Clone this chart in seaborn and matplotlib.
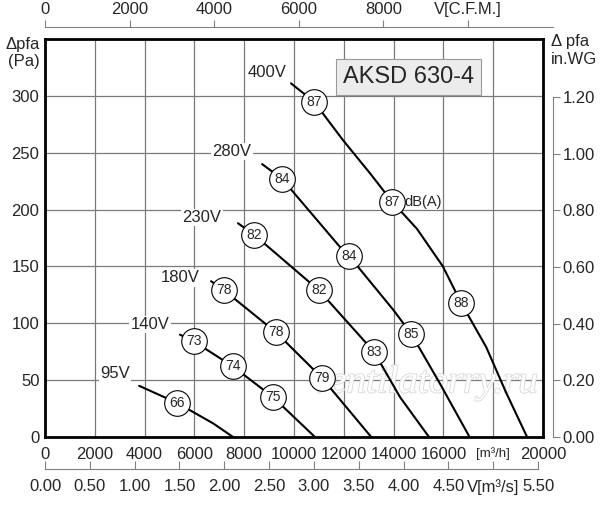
import matplotlib
matplotlib.use('Agg')
import matplotlib.pyplot as plt
import matplotlib.patheffects as pe
import seaborn as sns
import pandas as pd

# fan curves, flow in m3/h, static pressure in Pa
v400_q = [9880, 10800, 11970, 13050, 13940, 14940, 15980, 16710, 17720, 18520, 19360]
v400_p = [311, 295, 261, 232, 207, 183, 150, 118, 79, 39, 0]
v280_q = [8720, 9520, 11850, 12220, 13980, 14700, 15860, 17050]
v280_p = [240, 227, 167, 159, 112, 91, 47, 0]
v230_q = [7750, 8390, 11000, 13210, 14260, 15420]
v230_p = [188, 178, 129, 75, 35, 0]
v180_q = [6670, 7190, 9280, 11120, 13100]
v180_p = [137, 129, 92, 52, 0]
v140_q = [5420, 5980, 7550, 9160, 10840]
v140_p = [90, 84, 62, 35, 0]
v95_q = [3780, 5300, 6750, 7550]
v95_p = [45, 30, 12, 0]

# noise markers dB(A)
noise_q = [10800, 13940, 16710, 9520, 12220, 14700, 8390, 11000, 13210,
           7190, 9280, 11120, 5980, 7550, 9160, 5300]
noise_p = [295, 207, 118, 227, 159, 91, 178, 129, 75,
           129, 92, 52, 84, 62, 35, 30]
noise_db = [87, 87, 88, 84, 84, 85, 82, 82, 83, 78, 78, 79, 73, 74, 75, 66]

voltages = ['400V', '280V', '230V', '180V', '140V', '95V']
x_ticks = list(range(0, 20001, 2000))
y_ticks = list(range(0, 301, 50))
cfm_ticks = list(range(0, 12001, 2000))
wg_ticks = [0.0, 0.2, 0.4, 0.6, 0.8, 1.0, 1.2]
ms_ticks = [0, 0.5, 1.0, 1.5, 2.0, 2.5, 3.0, 3.5, 4.0, 4.5, 5.0, 5.5]

curves = [(v400_q, v400_p), (v280_q, v280_p), (v230_q, v230_p),
          (v180_q, v180_p), (v140_q, v140_p), (v95_q, v95_p)]
rows = []
for name, (q, p) in zip(voltages, curves):
    for a, b in zip(q, p):
        rows.append({'flow': a, 'pressure': b, 'voltage': name})
df = pd.DataFrame(rows)
marks = pd.DataFrame({'flow': noise_q, 'pressure': noise_p, 'db': noise_db})

sns.set_style('white')
plt.rcParams['font.family'] = ['Liberation Sans', 'DejaVu Sans']

fig = plt.figure(figsize=(6.0, 5.05), dpi=100)
ax = fig.add_axes([0.075, 0.1347, 0.83, 0.788])

ax.text(0.763, 0.136, 'ventilatorry.ru', transform=ax.transAxes, ha='center',
        va='center', fontsize=28, style='italic', family='Liberation Serif',
        color='white', zorder=2,
        path_effects=[pe.withStroke(linewidth=1.2, foreground='#d8d8d8')])

sns.lineplot(data=df, x='flow', y='pressure', units='voltage', estimator=None,
             sort=False, color='black', linewidth=1.5, ax=ax, zorder=3)
sns.scatterplot(data=marks, x='flow', y='pressure', s=340, color='white',
                edgecolor='black', linewidth=0.8, ax=ax, zorder=4)
for q, p, d in zip(noise_q, noise_p, noise_db):
    ax.text(q, p, str(d), ha='center', va='center', fontsize=10, zorder=5)
ax.annotate('dB(A)', (13940, 207), xytext=(9, 0), textcoords='offset points',
            ha='left', va='center', fontsize=10.5, zorder=5)

# voltage labels
lab_pos = {'400V': (8920, 321), '280V': (7510, 251), '230V': (6300, 193),
           '180V': (5420, 140), '140V': (4220, 99), '95V': (2810, 56)}
for v in voltages:
    x, y = lab_pos[v]
    ax.text(x, y, v, ha='center', va='center', fontsize=12, zorder=3,
            bbox=dict(facecolor='white', edgecolor='none', pad=1))

ax.text(0.73, 0.905, 'AKSD 630-4', transform=ax.transAxes, ha='center',
        va='center', fontsize=17, zorder=6,
        bbox=dict(facecolor='#ececec', edgecolor='#9a9a9a', pad=5, linewidth=0.8))

ax.set_xlim(0, 20000)
ax.set_ylim(0, 350)
ax.set_xticks(x_ticks)
ax.set_yticks(y_ticks + [350])
xl = [str(t) for t in x_ticks]
xl[9] = '[m³/h]'
ax.set_xticklabels(xl)
ax.set_yticklabels([str(t) for t in y_ticks] + [''])
for i, t in enumerate(ax.get_xticklabels()):
    t.set_fontsize(9.5 if i == 9 else 12)
for t in ax.get_yticklabels():
    t.set_fontsize(12)
ax.tick_params(axis='both', length=0)
ax.tick_params(axis='x', pad=7)
ax.tick_params(axis='y', pad=4)
ax.grid(True, color='#7a7a7a', linewidth=0.9)
ax.set_xlabel('')
ax.set_ylabel('')
for s in ax.spines.values():
    s.set_color('black')
    s.set_linewidth(2)
ax.text(-0.01, 0.965, 'Δpfa\n(Pa)', transform=ax.transAxes, ha='right',
        va='center', fontsize=12, linespacing=1.2)

# CFM axis on top
top = ax.secondary_xaxis(1 + 12 / 398, functions=(lambda x: x / 1.699,
                                                  lambda x: x * 1.699))
top.set_xticks(cfm_ticks)
cl = [str(t) for t in cfm_ticks]
cl[5] = 'V[C.F.M.]'
top.set_xticklabels(cl, fontsize=12)
top.spines['top'].set_bounds(0, 12000)
top.spines['top'].set_color('#808080')
top.tick_params(direction='out', length=5, color='#808080', pad=2)

# in.WG axis on the right
right = ax.secondary_yaxis(1 + 10 / 498, functions=(lambda y: y / 249.09,
                                                    lambda y: y * 249.09))
right.set_yticks(wg_ticks)
right.set_yticklabels(['%.2f' % t for t in wg_ticks], fontsize=12)
right.spines['right'].set_bounds(0, 1.2)
right.spines['right'].set_color('#808080')
right.tick_params(direction='out', length=5, color='#808080', pad=2)
fig.text(0.918, 0.9, 'Δ pfa\nin.WG', ha='left', va='center', fontsize=12,
         linespacing=1.2)

# m3/s axis below
bot = ax.secondary_xaxis(-32 / 398, functions=(lambda x: x / 3600,
                                               lambda x: x * 3600))
bot.set_xticks(ms_ticks)
ml = ['%.2f' % t for t in ms_ticks]
ml[10] = 'V[m³/s]'
bot.set_xticklabels(ml, fontsize=12)
bot.spines['bottom'].set_bounds(0, 5.5)
bot.spines['bottom'].set_color('#808080')
bot.tick_params(direction='in', length=6, color='#808080', pad=7)

fig.savefig('out.png', dpi=100)
